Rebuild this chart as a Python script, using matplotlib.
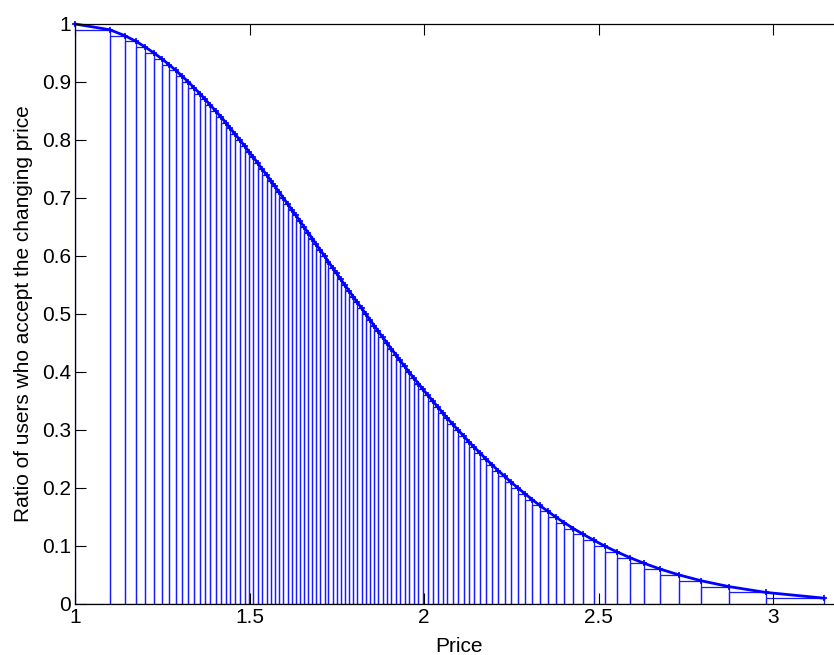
import numpy as np
import matplotlib
matplotlib.use('Agg')
import matplotlib.pyplot as plt

plt.rcParams['font.family'] = ['Liberation Sans', 'DejaVu Sans']

# price at which each 1% step of acceptance is reached
price = [1.000, 1.100, 1.142, 1.175, 1.202, 1.226, 1.249, 1.269, 1.289, 1.307,
         1.325, 1.341, 1.358, 1.373, 1.388, 1.403, 1.418, 1.432, 1.445, 1.459,
         1.472, 1.486, 1.498, 1.511, 1.524, 1.536, 1.549, 1.561, 1.573, 1.585,
         1.597, 1.609, 1.621, 1.633, 1.645, 1.656, 1.668, 1.680, 1.691, 1.703,
         1.715, 1.726, 1.738, 1.750, 1.761, 1.773, 1.785, 1.797, 1.809, 1.821,
         1.833, 1.845, 1.857, 1.869, 1.881, 1.894, 1.906, 1.919, 1.931, 1.944,
         1.957, 1.970, 1.984, 1.997, 2.011, 2.025, 2.039, 2.053, 2.067, 2.082,
         2.097, 2.113, 2.128, 2.144, 2.161, 2.177, 2.195, 2.212, 2.231, 2.249,
         2.269, 2.289, 2.310, 2.331, 2.354, 2.377, 2.402, 2.428, 2.456, 2.486,
         2.517, 2.552, 2.589, 2.631, 2.677, 2.731, 2.794, 2.873, 2.978, 3.146]

ratio = [1.00, 0.99, 0.98, 0.97, 0.96, 0.95, 0.94, 0.93, 0.92, 0.91,
         0.90, 0.89, 0.88, 0.87, 0.86, 0.85, 0.84, 0.83, 0.82, 0.81,
         0.80, 0.79, 0.78, 0.77, 0.76, 0.75, 0.74, 0.73, 0.72, 0.71,
         0.70, 0.69, 0.68, 0.67, 0.66, 0.65, 0.64, 0.63, 0.62, 0.61,
         0.60, 0.59, 0.58, 0.57, 0.56, 0.55, 0.54, 0.53, 0.52, 0.51,
         0.50, 0.49, 0.48, 0.47, 0.46, 0.45, 0.44, 0.43, 0.42, 0.41,
         0.40, 0.39, 0.38, 0.37, 0.36, 0.35, 0.34, 0.33, 0.32, 0.31,
         0.30, 0.29, 0.28, 0.27, 0.26, 0.25, 0.24, 0.23, 0.22, 0.21,
         0.20, 0.19, 0.18, 0.17, 0.16, 0.15, 0.14, 0.13, 0.12, 0.11,
         0.10, 0.09, 0.08, 0.07, 0.06, 0.05, 0.04, 0.03, 0.02, 0.01]

xticks = [1, 1.5, 2, 2.5, 3]
xtick_labels = ['1', '1.5', '2', '2.5', '3']
yticks = [0, 0.1, 0.2, 0.3, 0.4, 0.5, 0.6, 0.7, 0.8, 0.9, 1]
ytick_labels = ['0', '0.1', '0.2', '0.3', '0.4', '0.5', '0.6', '0.7', '0.8', '0.9', '1']

fontsize = 15

fig = plt.figure(figsize=(8.34, 6.55), dpi=100)
ax = fig.add_axes([0.0899, 0.0779, 0.9209, 0.8855])

# lower-sum rectangles under the acceptance curve
p = np.array(price)
r = np.array(ratio)
ax.bar(p[:-1], r[1:], width=np.diff(p), align='edge', fill=False,
       edgecolor='#1a1aff', linewidth=0.9)

ax.plot(price, ratio, '-+', color='#0000ff', linewidth=2.0, markersize=5,
        markeredgewidth=1.2, clip_on=False)

ax.set_xlim(1, 3.2)
ax.set_ylim(0, 1)
ax.set_xticks(xticks)
ax.set_xticklabels(xtick_labels, fontsize=fontsize)
ax.set_yticks(yticks)
ax.set_yticklabels(ytick_labels, fontsize=fontsize)
ax.tick_params(direction='in', length=8, width=0.8, top=True, right=False,
               pad=3)
ax.spines['right'].set_visible(False)
for s in ['left', 'bottom', 'top']:
    ax.spines[s].set_linewidth(0.9)

ax.set_xlabel('Price', fontsize=fontsize, labelpad=7)
ax.set_ylabel('Ratio of users who accept the changing price', fontsize=fontsize,
              labelpad=6)

fig.savefig('out.png', dpi=100)
